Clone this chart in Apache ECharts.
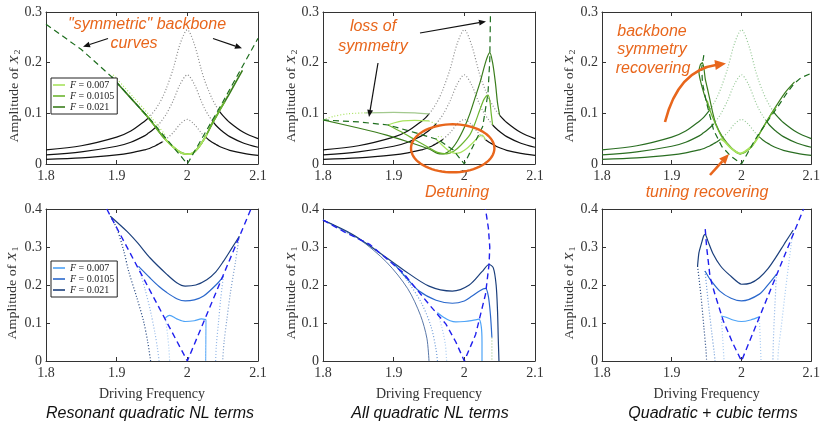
<!DOCTYPE html>
<html>
<head>
<meta charset="utf-8">
<script src="https://cdn.jsdelivr.net/npm/echarts/dist/echarts.min.js"></script>
<style>
html, body { margin: 0; padding: 0; background: #fff; }
#main { width: 823px; height: 422px; }
</style>
</head>
<body>
<div id="main"></div>
<script>
// axis ticks
const xTicks = [1.8, 1.9, 2.0, 2.1];
const yMaxTop = 0.3, yMaxBottom = 0.4;
const forceLabels = { g007: '0.007', g0105: '0.0105', g021: '0.021', b007: '0.007', b0105: '0.0105', b021: '0.021' };

// uncoupled X2 response (same in all three top panels)
const lorFreq = [1.80, 1.85, 1.90, 1.92, 1.94, 1.945, 1.95, 1.955, 1.96, 1.965, 1.97, 1.98, 1.99, 2.00,
                 2.01, 2.02, 2.025, 2.03, 2.035, 2.04, 2.045, 2.05, 2.06, 2.08, 2.10];
const lorHigh = [0.028, 0.036, 0.053, 0.065, 0.085, 0.091, 0.099, 0.108, 0.119, 0.132, 0.148, 0.188, 0.238, 0.265,
                 0.236, 0.185, 0.163, 0.145, 0.129, 0.116, 0.105, 0.096, 0.082, 0.062, 0.050];
const lorMid  = [0.018, 0.024, 0.035, 0.043, 0.056, 0.061, 0.066, 0.072, 0.079, 0.088, 0.098, 0.125, 0.158, 0.176,
                 0.157, 0.123, 0.108, 0.096, 0.086, 0.077, 0.070, 0.064, 0.054, 0.041, 0.033];
const lorLow  = [0.009, 0.012, 0.018, 0.022, 0.028, 0.030, 0.033, 0.036, 0.040, 0.044, 0.049, 0.062, 0.079, 0.088,
                 0.078, 0.061, 0.054, 0.048, 0.043, 0.039, 0.035, 0.032, 0.027, 0.021, 0.017];
// where each uncoupled curve turns unstable (dotted), per panel
const lorSplitsP1 = [[1.945, 2.045], [1.955, 2.035], [1.965, 2.025]];
const lorSplitsP2 = [[1.95, 2.05], [1.96, 2.04], [1.97, 2.03]];
const lorSplitsP3 = [[1.955, 2.045], [1.96, 2.035], [1.97, 2.025]];

// panel 1 : resonant quadratic, X2
const p1Backbone = [[1.8,0.276],[1.85,0.226],[1.893,0.172],[1.95,0.084],[2.0,0],[2.05,0.122],[2.1,0.248]];
const p1F021 = [[1.893,0.172],[1.92,0.13],[1.945,0.091],[1.955,0.073],[1.965,0.055],[1.975,0.04],[1.985,0.028],[1.993,0.021],[2.0,0.0195],[2.007,0.021],[2.015,0.031],[2.025,0.052],[2.035,0.079],[2.045,0.104],[2.06,0.14],[2.078,0.185]];
const p1F0105 = [[1.935,0.106],[1.945,0.091],[1.955,0.073],[1.965,0.055],[1.975,0.04],[1.985,0.028],[1.993,0.021],[2.0,0.0195],[2.007,0.021],[2.015,0.031],[2.025,0.052],[2.035,0.079],[2.045,0.104],[2.053,0.123]];
const p1F007 = [[1.968,0.05],[1.975,0.04],[1.985,0.028],[1.993,0.021],[2.0,0.0195],[2.007,0.021],[2.015,0.031],[2.025,0.052],[2.028,0.059]];
const p1DotL = [[1.895,0.176],[1.925,0.13],[1.95,0.09],[1.97,0.055]];
const p1DotR = [[2.03,0.07],[2.05,0.12],[2.075,0.178]];

// panel 2 : all quadratic, X2
const p2Backbone = [[1.8,0.087],[1.85,0.083],[1.892,0.077],[1.93,0.062],[1.963,0.048],[1.984,0.028],[2.0,0],[2.014,0.04],[2.026,0.074],[2.0335,0.14],[2.036,0.205],[2.037,0.3]];
const p2F021 = [[1.8,0.087],[1.85,0.071],[1.89,0.057],[1.92,0.044],[1.951,0.029],[1.962,0.021],[1.97,0.02],[1.98,0.027],[1.99,0.045],[2.0,0.072],[2.008,0.1],[2.015,0.13],[2.022,0.16],[2.031,0.205],[2.036,0.22],[2.04,0.2],[2.044,0.16],[2.047,0.12],[2.05,0.096]];
const p2F0105 = [[1.892,0.077],[1.91,0.064],[1.93,0.048],[1.95,0.032],[1.962,0.023],[1.975,0.02],[1.985,0.025],[1.995,0.037],[2.008,0.058],[2.015,0.08],[2.022,0.107],[2.028,0.128],[2.0335,0.136],[2.036,0.125],[2.038,0.1],[2.04,0.077]];
const p2F007 = [[1.96,0.049],[1.968,0.038],[1.978,0.026],[1.987,0.021],[1.995,0.023],[2.003,0.03],[2.012,0.042],[2.02,0.053],[2.025,0.057],[2.03,0.048]];
const p2UpperDot021 = [[1.8,0.087],[1.815,0.094],[1.835,0.099],[1.86,0.101]];
const p2Upper021 = [[1.86,0.101],[1.9,0.102],[1.93,0.101],[1.95,0.099]];
const p2Upper0105 = [[1.892,0.077],[1.9,0.081],[1.913,0.085],[1.93,0.086],[1.95,0.085]];
const p2UpperDot0105 = [[1.95,0.085],[1.96,0.079]];
const p2Loop007 = [[1.96,0.049],[1.963,0.054],[1.967,0.054],[1.97,0.049]];

// panel 3 : quadratic + cubic, X2
const p3Backbone = [[1.946,0.215],[1.943,0.19],[1.944,0.16],[1.95,0.12],[1.96,0.067],[1.972,0.034],[1.985,0.015],[2.0,0],[2.019,0.047],[2.035,0.08],[2.052,0.113],[2.065,0.14],[2.075,0.158],[2.085,0.17],[2.1,0.179]];
const p3F021 = [[1.955,0.108],[1.951,0.12],[1.946,0.14],[1.941,0.165],[1.939,0.182],[1.941,0.196],[1.944,0.2],[1.9462,0.188],[1.948,0.168],[1.951,0.15],[1.955,0.125],[1.959,0.1],[1.963,0.08],[1.972,0.055],[1.986,0.031],[1.998,0.02],[2.0145,0.034],[2.0287,0.067],[2.043,0.1],[2.062,0.14],[2.076,0.162]];
const p3F0105 = [[1.951,0.125],[1.955,0.105],[1.963,0.078],[1.972,0.053],[1.986,0.03],[1.998,0.02],[2.0145,0.034],[2.0287,0.066],[2.035,0.081],[2.043,0.099],[2.05,0.113]];
const p3F007 = [[1.97,0.05],[1.975,0.045],[1.986,0.03],[1.998,0.021],[2.0145,0.035],[2.025,0.055]];

// panel 4 : resonant quadratic, X1
const p4Backbone = [[1.886,0.4],[2.0,0],[2.09,0.4]];
const p4F021 = [[1.891,0.381],[1.9146,0.341],[1.93,0.31],[1.9474,0.271],[1.971,0.228],[1.985,0.206],[1.997,0.197],[2.012,0.2],[2.0275,0.214],[2.04,0.234],[2.051,0.262],[2.063,0.297],[2.0736,0.328]];
const p4F0105 = [[1.931,0.249],[1.947,0.219],[1.96,0.196],[1.971,0.18],[1.985,0.164],[1.997,0.158],[2.01,0.161],[2.023,0.171],[2.0415,0.202],[2.051,0.223]];
const p4F007 = [[1.969,0.114],[1.975,0.12],[1.985,0.111],[1.997,0.104],[2.01,0.106],[2.02,0.111],[2.0264,0.109]];
const p4F021L = [[1.891,0.381],[1.9,0.35],[1.91,0.29],[1.917,0.236],[1.928,0.17],[1.938,0.105],[1.944,0.05],[1.948,0]];
const p4F021R = [[2.0736,0.328],[2.068,0.26],[2.061,0.18],[2.056,0.11],[2.052,0.05],[2.05,0]];
const p4F0105L = [[1.931,0.249],[1.94,0.19],[1.948,0.13],[1.954,0.075],[1.958,0.03],[1.96,0]];
const p4F0105R = [[2.051,0.223],[2.047,0.16],[2.044,0.1],[2.041,0.04],[2.04,0]];
const p4F007L = [[1.969,0.114],[1.972,0.07],[1.974,0.03],[1.975,0]];
const p4F007R = [[2.0264,0.109],[2.0262,0.05],[2.026,0]];

// panel 5 : all quadratic, X1
const p5Backbone = [[1.8,0.371],[1.83,0.34],[1.866,0.307],[1.913,0.233],[1.95,0.149],[1.974,0.097],[1.988,0.05],[2.0,0],[2.016,0.07],[2.03,0.176],[2.035,0.255],[2.036,0.3],[2.034,0.35],[2.03,0.4]];
const p5F021 = [[1.8,0.371],[1.842,0.333],[1.88,0.285],[1.913,0.241],[1.95,0.197],[1.983,0.184],[2.007,0.2],[2.025,0.235],[2.035,0.254],[2.041,0.245],[2.045,0.2],[2.047,0.13],[2.048,0.06],[2.049,0]];
const p5F0105 = [[1.9,0.257],[1.915,0.225],[1.936,0.184],[1.96,0.16],[1.983,0.152],[2.0,0.158],[2.011,0.171],[2.022,0.185],[2.03,0.191],[2.034,0.17],[2.037,0.12],[2.039,0.062]];
const p5Tail0105 = [[2.039,0.062],[2.039,0]];
const p5F007 = [[1.962,0.127],[1.97,0.116],[1.98,0.106],[1.988,0.103],[2.0,0.104],[2.012,0.107],[2.0206,0.11],[2.024,0.09],[2.025,0.05],[2.025,0]];
const p5Fan021 = [[1.8,0.371],[1.85,0.322],[1.89,0.26],[1.92,0.19],[1.938,0.12],[1.947,0.06],[1.95,0]];
const p5Fan0105a = [[1.8,0.371],[1.86,0.31],[1.9,0.257]];
const p5Fan0105b = [[1.9,0.257],[1.92,0.21],[1.94,0.15],[1.953,0.09],[1.96,0.03],[1.962,0]];
const p5Fan007 = [[1.962,0.127],[1.968,0.09],[1.973,0.045],[1.975,0]];

// panel 6 : quadratic + cubic, X1
const p6Backbone = [[1.948,0.347],[1.95,0.3],[1.955,0.22],[1.962,0.175],[1.974,0.105],[1.988,0.045],[2.0,0],[2.089,0.4]];
const p6F021 = [[1.937,0.25],[1.939,0.285],[1.943,0.312],[1.946,0.33],[1.948,0.333],[1.952,0.315],[1.959,0.283],[1.97,0.25],[1.983,0.226],[2.0,0.202],[2.013,0.205],[2.0256,0.219],[2.038,0.243],[2.049,0.272],[2.062,0.31],[2.074,0.344]];
const p6F021L = [[1.937,0.25],[1.942,0.17],[1.946,0.09],[1.949,0.03],[1.95,0]];
const p6F021R = [[2.074,0.344],[2.068,0.26],[2.062,0.17],[2.057,0.09],[2.053,0.03],[2.052,0]];
const p6F0105 = [[1.9477,0.237],[1.955,0.215],[1.969,0.184],[1.985,0.165],[2.0,0.158],[2.0256,0.176],[2.04,0.205],[2.05,0.228]];
const p6F0105L = [[1.9477,0.237],[1.952,0.16],[1.957,0.08],[1.961,0.02],[1.962,0]];
const p6F0105R = [[2.05,0.228],[2.048,0.15],[2.046,0.07],[2.045,0]];
const p6F007 = [[1.971,0.118],[1.978,0.115],[1.988,0.108],[2.0,0.104],[2.013,0.108],[2.0256,0.116]];
const p6F007L = [[1.971,0.118],[1.973,0.06],[1.975,0]];
const p6F007R = [[2.0256,0.116],[2.027,0.05],[2.028,0]];

const SERIF = 'Liberation Serif';
const SANS = 'Liberation Sans';
const ORANGE = '#e8661c';
const GREEN_D = '#3a7d1c', GREEN_M = '#6cb52f', GREEN_L = '#a8e35e', GREEN_P = '#a3c98e', GREEN_DASH = '#1d6d1d';
const BLUE_D = '#1b3f7c', BLUE_M = '#2a68cc', BLUE_L = '#4da3f7', BLUE_DASH = '#2020ee';
const DOT = [1, 2], DASH = [6, 4];

const chart = echarts.init(document.getElementById('main'));

// grids & axes
const lefts = [46, 323, 602], tops = [12, 209];
const grids = [], xAxes = [], yAxes = [];
for (let i = 0; i < 6; i++) {
  const r = Math.floor(i / 3), c = i % 3;
  grids.push({ left: lefts[c], top: tops[r], width: 212, height: 152 });
}
function xAx(i, top) {
  return {
    type: 'value', gridIndex: i, min: xTicks[0], max: xTicks[xTicks.length - 1], interval: 0.1,
    position: top ? 'top' : 'bottom',
    axisLine: { show: true, onZero: false, lineStyle: { color: '#333', width: 1 } },
    axisTick: { show: true, inside: true, length: 4, lineStyle: { color: '#333' } },
    axisLabel: { show: !top, margin: 5, fontFamily: SERIF, fontSize: 14, color: '#333' },
    splitLine: { show: false },
    name: (!top && i >= 3) ? 'Driving Frequency' : '',
    nameLocation: 'middle', nameGap: 26,
    nameTextStyle: { fontFamily: SERIF, fontSize: 14, color: '#333' }
  };
}
function yAx(i, right) {
  return {
    type: 'value', gridIndex: i, min: 0, max: i < 3 ? yMaxTop : yMaxBottom, interval: 0.1,
    position: right ? 'right' : 'left',
    axisLine: { show: true, onZero: false, lineStyle: { color: '#333', width: 1 } },
    axisTick: { show: true, inside: true, length: 4, lineStyle: { color: '#333' } },
    axisLabel: { show: !right, margin: 4, fontFamily: SERIF, fontSize: 14, color: '#333' },
    splitLine: { show: false }
  };
}
for (let i = 0; i < 6; i++) { xAxes.push(xAx(i, false)); yAxes.push(yAx(i, false)); }
for (let i = 0; i < 6; i++) { xAxes.push(xAx(i, true)); yAxes.push(yAx(i, true)); }

// series
const series = [];
function add(panel, data, color, type, opts) {
  const o = opts || {};
  series.push({
    type: 'line', name: o.name || ('s' + series.length),
    xAxisIndex: panel, yAxisIndex: panel, data: data,
    showSymbol: false, symbol: 'none', silent: true, animation: false,
    smooth: o.smooth === undefined ? 0.3 : o.smooth,
    z: o.z || 2,
    lineStyle: { color: color, width: o.width || 1.2, type: type || 'solid' },
    itemStyle: { color: color }
  });
}
function lorPart(vals, lo, hi) {
  return lorFreq.map((f, i) => [f, vals[i]]).filter(p => p[0] >= lo - 1e-9 && p[0] <= hi + 1e-9);
}
function addLor(panel, splits, solidColor, dotColor) {
  [lorHigh, lorMid, lorLow].forEach((vals, k) => {
    const a = splits[k][0], b = splits[k][1];
    add(panel, lorPart(vals, 1.8, a), solidColor, 'solid');
    add(panel, lorPart(vals, a, b), dotColor, DOT);
    add(panel, lorPart(vals, b, 2.1), solidColor, 'solid');
  });
}

// panel 1
addLor(0, lorSplitsP1, '#111', '#8a8a8a');
add(0, p1DotL, GREEN_L, DOT);
add(0, p1DotR, GREEN_L, DOT);
add(0, p1F021, GREEN_D, 'solid', { name: 'g021', width: 1.6 });
add(0, p1F0105, GREEN_M, 'solid', { name: 'g0105', width: 1.6 });
add(0, p1F007, GREEN_L, 'solid', { name: 'g007', width: 1.8 });
add(0, p1Backbone, GREEN_DASH, DASH, { smooth: false, z: 3 });

// panel 2
addLor(1, lorSplitsP2, '#111', '#8a8a8a');
add(1, p2UpperDot021, GREEN_L, DOT);
add(1, p2Upper021, GREEN_P, 'solid');
add(1, p2Upper0105, GREEN_L, 'solid');
add(1, p2UpperDot0105, GREEN_L, DOT);
add(1, p2Loop007, GREEN_L, DOT);
add(1, p2F021, GREEN_D, 'solid');
add(1, p2F0105, GREEN_M, 'solid');
add(1, p2F007, GREEN_L, 'solid');
add(1, p2Backbone, GREEN_DASH, DASH, { smooth: false, z: 3 });

// panel 3
addLor(2, lorSplitsP3, '#2a6e22', '#93c793');
add(2, p3F021, GREEN_D, 'solid', { smooth: 0.2 });
add(2, p3F0105, GREEN_M, 'solid');
add(2, p3F007, GREEN_L, 'solid', { width: 1.8 });
add(2, p3Backbone, GREEN_DASH, DASH, { smooth: false, z: 3 });

// panel 4
add(3, p4F021L, BLUE_D, DOT);
add(3, p4F021R, '#7a9ccc', DOT);
add(3, p4F0105L, '#8fb4e6', DOT);
add(3, p4F0105R, '#8fb4e6', DOT);
add(3, p4F007L, '#a8cbf2', DOT);
add(3, p4F007R, BLUE_L, 'solid', { width: 1 });
add(3, p4F021, BLUE_D, 'solid', { name: 'b021' });
add(3, p4F0105, BLUE_M, 'solid', { name: 'b0105' });
add(3, p4F007, BLUE_L, 'solid', { name: 'b007' });
add(3, p4Backbone, BLUE_DASH, DASH, { smooth: false, z: 3, width: 1.4 });

// panel 5
add(4, p5Fan021, '#5a78a8', 'solid', { width: 1 });
add(4, p5Fan0105a, '#6e9bd8', DOT);
add(4, p5Fan0105b, '#6e9bd8', DOT);
add(4, p5Fan007, '#a8cbf2', DOT);
add(4, p5Tail0105, GREEN_P, DOT, { smooth: false });
add(4, p5F021, BLUE_D, 'solid');
add(4, p5F0105, BLUE_M, 'solid');
add(4, p5F007, BLUE_L, 'solid');
add(4, p5Backbone, BLUE_DASH, DASH, { smooth: false, z: 3, width: 1.4 });

// panel 6
add(5, p6F021L, BLUE_D, DOT);
add(5, p6F021R, '#a8cbf2', DOT);
add(5, p6F0105L, '#6e9bd8', DOT);
add(5, p6F0105R, '#8fb4e6', DOT);
add(5, p6F007L, '#a8cbf2', DOT);
add(5, p6F007R, '#a8cbf2', DOT);
add(5, p6F021, BLUE_D, 'solid', { smooth: 0.2 });
add(5, p6F0105, BLUE_M, 'solid');
add(5, p6F007, BLUE_L, 'solid');
add(5, p6Backbone, BLUE_DASH, DASH, { smooth: false, z: 3, width: 1.4 });

// legends
function legendAt(top, names) {
  return {
    data: names, left: 51, top: top, orient: 'vertical', selectedMode: false,
    icon: 'rect', itemWidth: 12, itemHeight: 1.6, itemGap: 1, padding: [2, 3, 2, 2],
    borderColor: '#222', borderWidth: 1, backgroundColor: '#fff', z: 10,
    formatter: name => '{i|F} = ' + forceLabels[name],
    textStyle: { fontFamily: SERIF, fontSize: 10, color: '#222', lineHeight: 10,
      rich: { i: { fontFamily: SERIF, fontStyle: 'italic', fontSize: 10, color: '#222', lineHeight: 10 } } }
  };
}

// annotations
function arrow(x1, y1, x2, y2, color, w, head) {
  const a = Math.atan2(y2 - y1, x2 - x1);
  const bx = x2 - head * Math.cos(a), by = y2 - head * Math.sin(a);
  const hw = head * 0.42;
  return [
    { type: 'line', z: 100, shape: { x1: x1, y1: y1, x2: bx, y2: by }, style: { stroke: color, lineWidth: w } },
    { type: 'polygon', z: 100, shape: { points: [[x2, y2], [bx - hw * Math.sin(a), by + hw * Math.cos(a)], [bx + hw * Math.sin(a), by - hw * Math.cos(a)]] }, style: { fill: color } }
  ];
}
function note(text, x, y, color, size) {
  return { type: 'text', z: 100, x: x, y: y,
    style: { text: text, fill: color, fontFamily: SANS, fontStyle: 'italic', fontSize: size || 16,
      textAlign: 'center', textVerticalAlign: 'middle' } };
}
function yLabel(x, y, sub) {
  return { type: 'text', z: 100, x: x, y: y, rotation: Math.PI / 2, scaleY: 0.82,
    style: { text: '{a|Amplitude of }{x|X}{s|' + sub + '}', textAlign: 'center', textVerticalAlign: 'middle',
      rich: {
        a: { fontFamily: SERIF, fontSize: 14, fill: '#333', lineHeight: 16 },
        x: { fontFamily: SERIF, fontStyle: 'italic', fontSize: 14, fill: '#333', lineHeight: 16 },
        s: { fontFamily: SERIF, fontSize: 10, fill: '#333', verticalAlign: 'bottom', padding: [0, 0, 0, 1] }
      } } };
}
const ellipsePts = [];
for (let k = 0; k < 72; k++) {
  const t = k / 72 * Math.PI * 2;
  ellipsePts.push([452.7 + 41.7 * Math.cos(t), 148.3 + 24 * Math.sin(t)]);
}
const curveEnd = [726, 63.5], curveCtrl = [678, 70];
const ca = Math.atan2(curveEnd[1] - curveCtrl[1], curveEnd[0] - curveCtrl[0]);
const graphics = [].concat(
  [yLabel(15, 96, '2'), yLabel(292, 96, '2'), yLabel(570, 96, '2'),
   yLabel(13, 293, '1'), yLabel(292, 293, '1'), yLabel(570, 293, '1')],
  [note('Resonant quadratic NL terms', 150, 414, '#111'),
   note('All quadratic NL terms', 430, 414, '#111'),
   note('Quadratic + cubic terms', 713, 414, '#111')],
  [note('"symmetric" backbone', 147, 25, ORANGE), note('curves', 134, 44, ORANGE)],
  arrow(108, 38.5, 83, 46.7, '#111', 1.2, 7),
  arrow(213, 38.5, 242, 48.3, '#111', 1.2, 7),
  [note('loss of', 373, 27, ORANGE), note('symmetry', 373, 47, ORANGE)],
  arrow(420, 33, 486, 21.5, '#111', 1.2, 7),
  arrow(378, 63, 369, 117, '#111', 1.2, 7),
  [{ type: 'polygon', z: 100, shape: { points: ellipsePts }, style: { fill: 'none', stroke: ORANGE, lineWidth: 2.4 } },
   note('Detuning', 457, 193, ORANGE)],
  [note('backbone', 652, 31.5, ORANGE), note('symmetry', 652, 50, ORANGE), note('recovering', 653, 68.5, ORANGE)],
  [{ type: 'bezierCurve', z: 100,
     shape: { x1: 665, y1: 122, cpx1: curveCtrl[0], cpy1: curveCtrl[1],
              x2: curveEnd[0] - 9 * Math.cos(ca), y2: curveEnd[1] - 9 * Math.sin(ca) },
     style: { stroke: ORANGE, lineWidth: 2.6, fill: 'none' } },
   { type: 'polygon', z: 100, shape: { points: [curveEnd,
       [curveEnd[0] - 11 * Math.cos(ca) - 5 * Math.sin(ca), curveEnd[1] - 11 * Math.sin(ca) + 5 * Math.cos(ca)],
       [curveEnd[0] - 11 * Math.cos(ca) + 5 * Math.sin(ca), curveEnd[1] - 11 * Math.sin(ca) - 5 * Math.cos(ca)]] },
     style: { fill: ORANGE } }],
  arrow(710, 175, 729, 154, ORANGE, 2.6, 10),
  [note('tuning recovering', 707, 193, ORANGE)]
);

chart.setOption({
  animation: false,
  backgroundColor: '#fff',
  grid: grids,
  xAxis: xAxes,
  yAxis: yAxes,
  legend: [legendAt(78, ['g007', 'g0105', 'g021']), legendAt(261, ['b007', 'b0105', 'b021'])],
  graphic: graphics,
  series: series
});
</script>
</body>
</html>
